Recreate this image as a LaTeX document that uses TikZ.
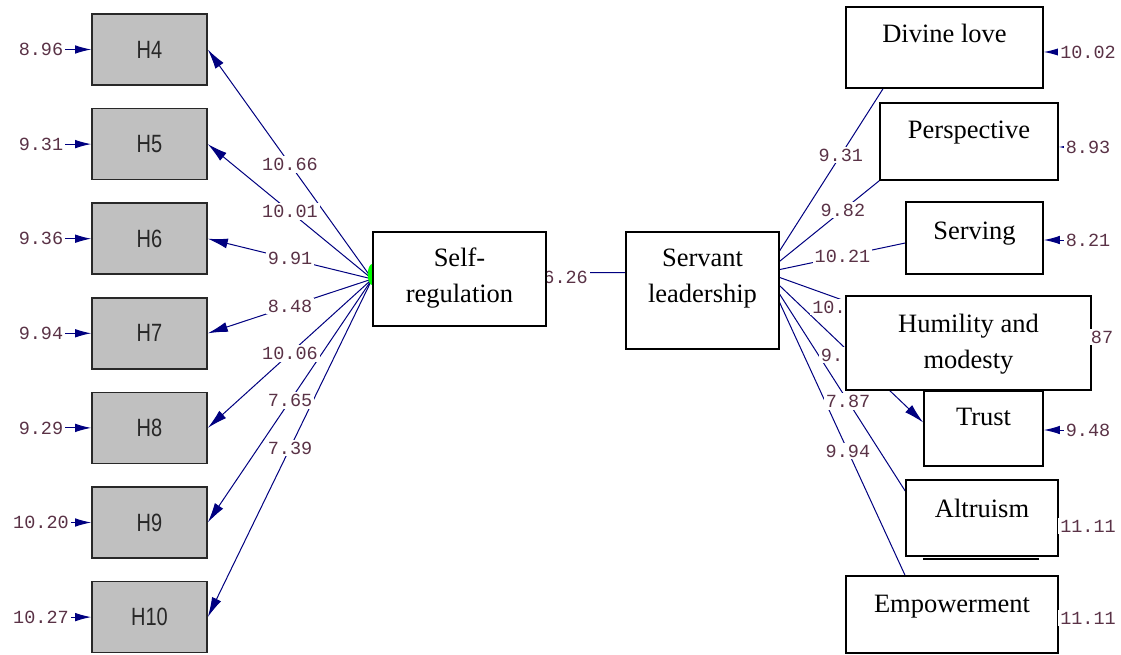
\documentclass[tikz,border=0pt]{standalone}
\usepackage{fontspec}
\setmainfont{Liberation Serif}
\setsansfont{Liberation Sans}
\setmonofont{Liberation Mono}
\usepackage{xcolor}
\usepackage{graphicx}
\usepackage{tikz}
\usetikzlibrary{arrows.meta}
\pgfdeclarelayer{lines}
\pgfdeclarelayer{labels}
\pgfsetlayers{lines,labels,main}
\definecolor{pathblue}{RGB}{0,0,128}
\definecolor{coefcol}{RGB}{90,50,70}
\definecolor{obsgray}{RGB}{192,192,192}
\definecolor{obsline}{RGB}{40,40,40}

\begin{document}
\begin{tikzpicture}[x=1pt,y=-1pt,
  latent/.style={rectangle,draw,line width=1.6pt,fill=white,inner xsep=0pt,inner ysep=0pt,align=center,font=\fontsize{26.5}{36}\selectfont},
  obs/.style={rectangle,draw=obsline,line width=1.6pt,fill=obsgray,minimum width=115pt,minimum height=71pt,inner sep=0pt,text=obsline,font=\fontsize{25}{25}\sffamily},
  coef/.style={fill=white,inner sep=2pt,text=coefcol,font=\fontsize{18.5}{18.5}\ttfamily},
  load/.style={draw=pathblue,line width=1pt},
  loadarr/.style={load,-{Latex[length=20pt,width=10pt]}},
  errarr/.style={load,-{Latex[length=16pt,width=8.5pt]}}]
\useasboundingbox (0,0) rectangle (1121,655);
%\draw[help lines,step=50] (0,0) grid (1121,655);
\foreach \n/\e [count=\i from 0] in {4/8.96,5/9.31,6/9.36,7/9.94,8/9.29,9/10.20,10/10.27}{
  \node[obs] (h\n) at (149.5,49.5+94.6*\i) {\scalebox{0.8}[1]{H\n}};
  \node[coef] (e\n) at (41,49.5+94.6*\i) {\e};
}
\node[latent,minimum width=173pt,text height=70pt,text depth=24pt] (sr) at (459.5,279) {Self-\\regulation};
\node[latent,minimum width=153pt,text height=70pt,text depth=47pt] (serv) at (702.5,290.5) {Servant\\leadership};
\node[latent,minimum width=197pt,text height=36pt,text depth=45pt] (div) at (944.5,47.5) {Divine love};
\node[latent,minimum width=178pt,text height=36pt,text depth=41pt] (per) at (969,141.5) {Perspective};
\node[latent,minimum width=137pt,text height=37pt,text depth=35pt] (srv) at (974.5,238) {Serving};
\node[latent,minimum width=119pt,text height=34.5pt,text depth=40.5pt] (tru) at (983.5,428.5) {Trust};
\node[latent,minimum width=245pt,text height=72pt,text depth=22pt] (hum) at (968.5,343) {Humility and\\modesty};
\node[latent,minimum width=152pt,text height=37.5pt,text depth=38.5pt] (alt) at (982,518) {Altruism};
\node[latent,minimum width=212pt,text height=36.5pt,text depth=40.5pt] (emp) at (952,614.5) {Empowerment};
\draw[line width=2pt] ([xshift=18pt,yshift=-2pt]alt.south west) -- ([xshift=-20pt,yshift=-2pt]alt.south east);
\node[coef] (ediv) at (1088,52) {10.02};
\node[coef] (eper) at (1088,147) {8.93};
\node[coef] (esrv) at (1088,240) {8.21};
\node[coef] (ehum) at (1102,337) {87};
\node[coef] (etru) at (1088,430) {9.48};
\node[coef] (ealt) at (1088,526) {11.11};
\node[coef] (eemp) at (1088,618) {11.11};

\begin{pgfonlayer}{lines}
\fill[white] (0,0) rectangle (1121,655);
\foreach \n in {4,...,10}{
  \draw[loadarr] (sr.west) -- coordinate[pos=0.5] (c\n) (h\n.east);
  \draw[errarr] (e\n) -- (h\n);
}
\coordinate (svhub) at ([xshift=-14pt,yshift=18pt]serv.east);
\draw[load] (svhub) -- coordinate[pos=0.64] (cdiv) ([xshift=-61.5pt]div.south);
\draw[load] (svhub) -- coordinate[pos=0.68] (cper) (per.south west);
\draw[load] (svhub) -- coordinate[pos=0.55] (csrv) ([yshift=-5pt]srv.west);
\draw[load] (svhub) -- ([yshift=42pt]hum.west);
\draw[loadarr] (svhub) -- ([yshift=6pt]tru.west);
\draw[load] (svhub) -- coordinate[pos=0.59] (calt) ([yshift=27pt]alt.west);
\draw[load] (svhub) -- coordinate[pos=0.59] (cemp) ([xshift=-47pt]emp.north);
\draw[load] ([yshift=6pt]sr.east) -- coordinate[pos=0.24] (csv) ([yshift=18pt]serv.west);
\draw[errarr] (ediv) -- (ediv -| div.east);
\draw[errarr] (eper) -- (eper -| per.east);
\draw[errarr] (esrv) -- (esrv -| srv.east);
\draw[errarr] (etru) -- (etru -| tru.east);
\end{pgfonlayer}

\begin{pgfonlayer}{labels}
\foreach \n/\v in {4/10.66,5/10.01,6/9.91,7/8.48,8/10.06,9/7.65,10/7.39}
  \node[coef] (l\n) at (c\n) {\v};
\node[coef] (ldiv) at (cdiv) {9.31};
\node[coef] (lper) at (cper) {9.82};
\node[coef] (lsrv) at (csrv) {10.21};
\node[coef] (lhum) at (829,307) {10.};
\node[coef] (ltru) at (832,355) {9.};
\node[coef] (lalt) at (calt) {7.87};
\node[coef] (lemp) at (cemp) {9.94};
\node[coef] (lsv) at ([yshift=-5pt]csv) {6.26};
\fill[green] ([yshift=4.5pt]sr.west) ellipse [x radius=4.5pt, y radius=10.5pt];
\end{pgfonlayer}
\end{tikzpicture}
\end{document}
